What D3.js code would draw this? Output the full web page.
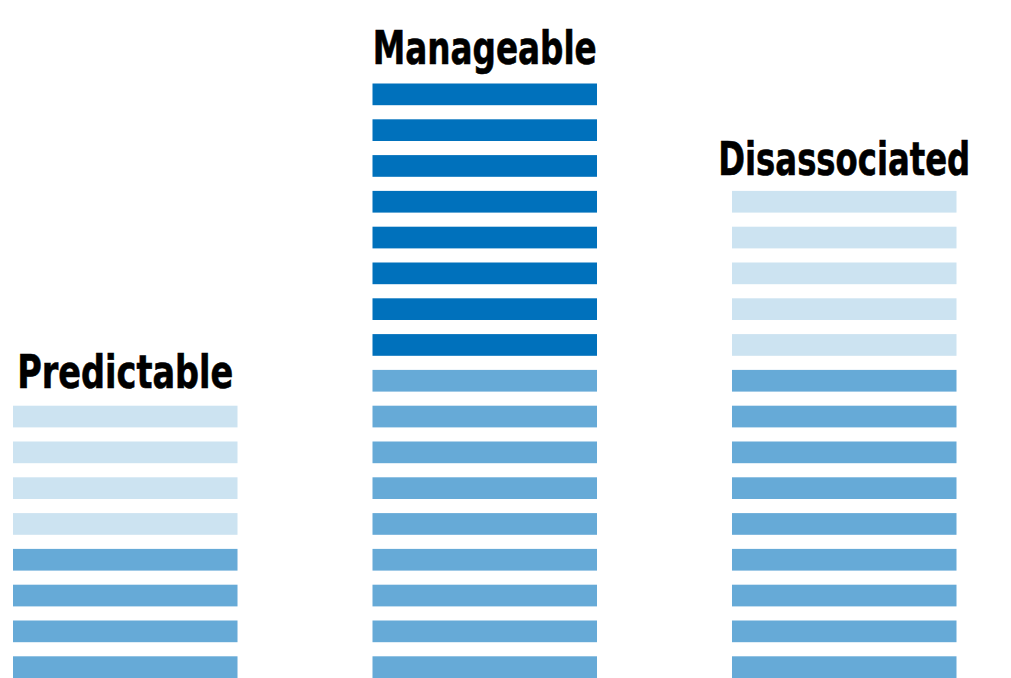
<!DOCTYPE html>
<html>
<head>
<meta charset="utf-8">
<script src="https://cdn.jsdelivr.net/npm/d3@7"></script>
<style>
  html, body { margin: 0; padding: 0; background: #ffffff; }
  svg { display: block; }
</style>
</head>
<body>
<svg id="chart" width="1011" height="678"></svg>
<script>
// ---- data ----
const categories = ["Predictable", "Manageable", "Disassociated"];
const baseCounts = [4, 9, 9];      // medium blue bars (bottom)
const darkCounts = [0, 8, 0];      // dark blue bars (top)
const lightCounts = [4, 0, 5];     // light blue bars (top)
const segmentNames = ["base", "dark", "light"];
const segmentColors = ["#66aad7", "#0071bc", "#cce3f1"];

// ---- layout ----
const W = 1011, H = 678;
const svg = d3.select("#chart");

const x = d3.scaleBand()
  .domain(categories)
  .range([13, 956.5])
  .paddingInner(0.3755)
  .paddingOuter(0);

const pitch = 35.8;
const barH = 21.7;
const maxBars = d3.max(categories, (c, i) => baseCounts[i] + darkCounts[i] + lightCounts[i]);
const y = d3.scaleLinear()
  .domain([0, maxBars])
  .range([H, H - pitch * maxBars]);

const color = d3.scaleOrdinal().domain(segmentNames).range(segmentColors);

// build bar list
const bars = [];
categories.forEach((c, i) => {
  const segs = [["base", baseCounts[i]], ["dark", darkCounts[i]], ["light", lightCounts[i]]];
  let k = 0;
  segs.forEach(([name, n]) => {
    for (let j = 0; j < n; j++) {
      bars.push({ category: c, index: k, seg: name });
      k++;
    }
  });
});

svg.append("g")
  .selectAll("rect")
  .data(bars)
  .join("rect")
  .attr("x", d => x(d.category))
  .attr("width", x.bandwidth())
  .attr("y", d => y(d.index) - barH)
  .attr("height", barH)
  .attr("fill", d => color(d.seg));

// labels
const labelWidths = { "Predictable": 216, "Manageable": 224, "Disassociated": 252 };
const labelGap = { "Predictable": 18, "Manageable": 20, "Disassociated": 16 };
svg.append("g")
  .selectAll("text")
  .data(categories)
  .join("text")
  .attr("x", d => x(d) + x.bandwidth() / 2)
  .attr("y", (d, i) => {
    const total = baseCounts[i] + darkCounts[i] + lightCounts[i];
    return y(total - 1) - barH - labelGap[d];
  })
  .attr("text-anchor", "middle")
  .attr("font-family", "'Liberation Sans Narrow', 'DejaVu Sans Condensed', 'Roboto Condensed', sans-serif")
  .attr("font-weight", "bold")
  .attr("font-size", 46)
  .attr("fill", "#000")
  .attr("stroke", "#000")
  .attr("stroke-width", 0.6)
  .attr("textLength", d => labelWidths[d])
  .attr("lengthAdjust", "spacingAndGlyphs")
  .text(d => d);
</script>
</body>
</html>
